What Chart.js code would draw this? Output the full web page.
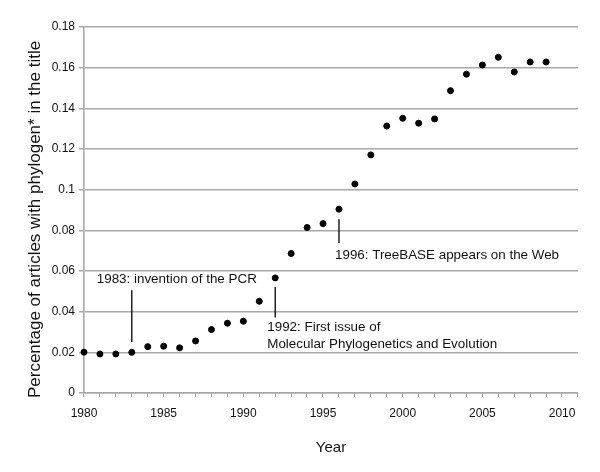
<!DOCTYPE html>
<html>
<head>
<meta charset="utf-8">
<script src="https://cdn.jsdelivr.net/npm/chart.js@4/dist/chart.umd.min.js"></script>
<style>
  html, body { margin: 0; padding: 0; background: #fff; }
  canvas { display: block; }
</style>
</head>
<body>
<canvas id="chart" width="600" height="472"></canvas>
<script>
const years = [
  1980, 1981, 1982, 1983, 1984, 1985, 1986, 1987, 1988, 1989,
  1990, 1991, 1992, 1993, 1994, 1995, 1996, 1997, 1998, 1999,
  2000, 2001, 2002, 2003, 2004, 2005, 2006, 2007, 2008, 2009,
];
const share = [
  0.0201, 0.0192, 0.0192, 0.0200, 0.0228, 0.0230, 0.0222, 0.0256, 0.0312, 0.0343,
  0.0353, 0.0451, 0.0566, 0.0686, 0.0814, 0.0833, 0.0904, 0.1028, 0.1171, 0.1313,
  0.1351, 0.1327, 0.1348, 0.1487, 0.1568, 0.1613, 0.1651, 0.1579, 0.1628, 0.1628,
];
const yTicks = [0, 0.02, 0.04, 0.06, 0.08, 0.1, 0.12, 0.14, 0.16, 0.18];
const xTickLabels = [1980, 1985, 1990, 1995, 2000, 2005, 2010];

// events: marker line from y0 to y1 at year, text lines starting at tx
const events = [
  { year: 1983, y0: 0.0251, y1: 0.0505, tx: 1980.8, lines: [[0.0561, '1983: invention of the PCR']] },
  { year: 1992, y0: 0.0371, y1: 0.0521, tx: 1991.5, lines: [[0.0325, '1992: First issue of'], [0.0240, 'Molecular Phylogenetics and Evolution']] },
  { year: 1996, y0: 0.0738, y1: 0.0854, tx: 1995.75, lines: [[0.0677, '1996: TreeBASE appears on the Web']] },
];

const FONT = '"Liberation Sans", Arial, Helvetica, sans-serif';
const AXIS = '#a8a8a8';

const eventsPlugin = {
  id: 'events',
  afterDatasetsDraw(chart) {
    const { ctx, scales: { x, y } } = chart;
    ctx.save();
    ctx.strokeStyle = '#000';
    ctx.lineWidth = 1.3;
    ctx.fillStyle = '#111';
    ctx.font = '13.4px ' + FONT;
    ctx.textBaseline = 'middle';
    ctx.textAlign = 'left';
    events.forEach((ev) => {
      const px = x.getPixelForValue(ev.year);
      ctx.beginPath();
      ctx.moveTo(px, y.getPixelForValue(ev.y0));
      ctx.lineTo(px, y.getPixelForValue(ev.y1));
      ctx.stroke();
      ev.lines.forEach(([v, t]) => {
        ctx.fillText(t, x.getPixelForValue(ev.tx), y.getPixelForValue(v));
      });
    });
    ctx.restore();
  },
};

new Chart(document.getElementById('chart'), {
  type: 'scatter',
  data: {
    datasets: [{
      data: years.map((yr, i) => ({ x: yr, y: share[i] })),
      backgroundColor: '#000',
      borderColor: '#000',
      pointRadius: 3,
      pointHoverRadius: 3,
      clip: false,
    }],
  },
  options: {
    responsive: false,
    animation: false,
    layout: { padding: { top: 27, right: 22, left: 0, bottom: 0 } },
    plugins: { legend: { display: false }, tooltip: { enabled: false } },
    scales: {
      x: {
        type: 'linear',
        min: 1980,
        max: 2011,
        afterFit: (s) => { s.height = 79; },
        afterBuildTicks: (s) => {
          s.ticks = [];
          for (let v = 1980; v <= 2011; v++) s.ticks.push({ value: v });
        },
        ticks: {
          autoSkip: false,
          maxRotation: 0,
          padding: 9,
          color: '#111',
          font: { family: FONT, size: 12 },
          callback: (v) => (xTickLabels.includes(v) ? String(v) : ''),
        },
        grid: { drawOnChartArea: false, color: AXIS, lineWidth: 1.2, tickLength: 4 },
        border: { color: AXIS, width: 1.6 },
        title: {
          display: true,
          text: 'Year',
          color: '#111',
          font: { family: FONT, size: 15 },
          padding: { top: 4, bottom: 15 },
        },
      },
      y: {
        min: 0,
        max: 0.18,
        afterFit: (s) => { s.width = 84; },
        afterBuildTicks: (s) => { s.ticks = yTicks.map((v) => ({ value: v })); },
        ticks: {
          padding: 4,
          color: '#111',
          font: { family: FONT, size: 12 },
          callback: (v) => String(Number(v.toFixed(2))),
        },
        grid: { color: AXIS, lineWidth: 1.5, tickLength: 5 },
        border: { color: AXIS, width: 1.6 },
        title: {
          display: true,
          // trailing no-break spaces push the text a little lower, as in the original
          text: 'Percentage of articles with phylogen* in the title\u00a0\u00a0\u00a0\u00a0',
          color: '#111',
          font: { family: FONT, size: 17 },
          padding: { top: 25, bottom: 0 },
        },
      },
    },
  },
  plugins: [eventsPlugin],
});
</script>
</body>
</html>
